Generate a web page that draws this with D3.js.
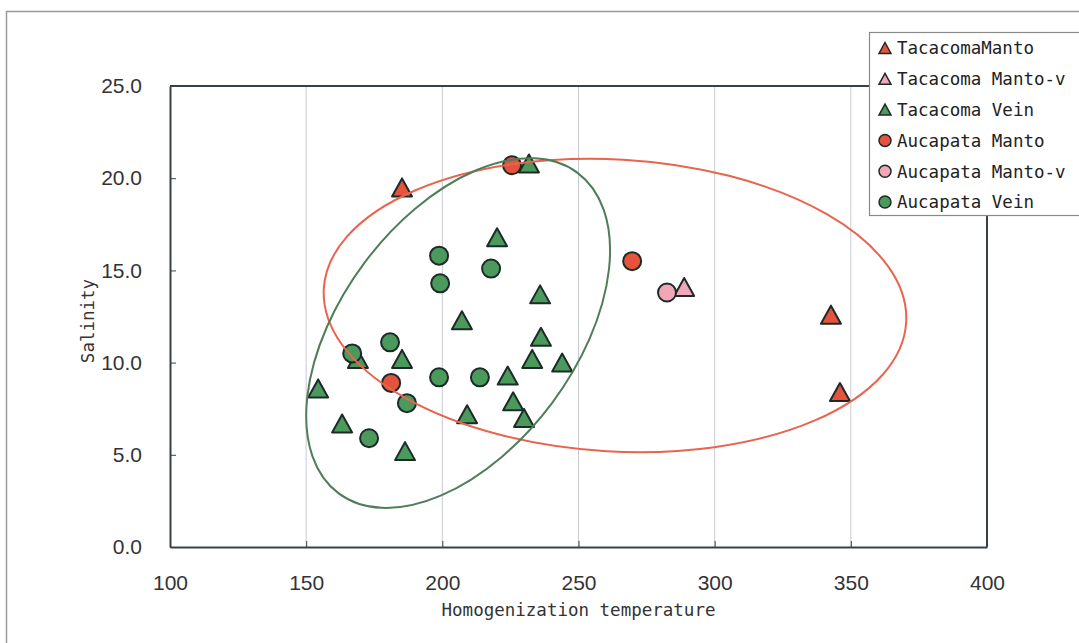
<!DOCTYPE html>
<html>
<head>
<meta charset="utf-8">
<script src="https://cdn.jsdelivr.net/npm/d3@7"></script>
<style>
  body { margin: 0; background: #fff; }
  #graf { width: 1079px; height: 643px; }
  .eje text { font-family: 'Liberation Sans', Arial, sans-serif; font-size: 21px; fill: #333; }
  .eje path, .eje line { stroke: #3a4048; }
  .titulo-eje { font-family: 'DejaVu Sans Mono', monospace; font-size: 17.5px; fill: #333; }
  .leyenda text { font-family: 'DejaVu Sans Mono', monospace; font-size: 17.5px; fill: #222; }
</style>
</head>
<body>
<div id="graf"></div>
<script>
// datos (temperatura de homogeneizacion, salinidad)
const tacacomaMantoT  = [185.2, 342.7, 346.0]
const tacacomaMantoS  = [19.5, 12.6, 8.4]
const tacacomaMantoVT = [288.8]
const tacacomaMantoVS = [14.1]
const tacacomaVeinT = [231.8, 220.1, 235.9, 207.2, 236.2, 233.0, 244.0, 224.0, 226.0, 230.0, 209.1, 186.3, 163.2, 154.4, 185.2, 169.0]
const tacacomaVeinS = [20.8, 16.8, 13.7, 12.3, 11.4, 10.2, 10.0, 9.3, 7.9, 7.0, 7.2, 5.2, 6.7, 8.6, 10.2, 10.2]
const aucapataMantoT  = [225.6, 269.7, 181.2]
const aucapataMantoS  = [20.7, 15.5, 8.9]
const aucapataMantoVT = [282.5]
const aucapataMantoVS = [13.8]
const aucapataVeinT = [198.8, 199.2, 217.9, 180.8, 166.9, 198.8, 213.8, 187.0, 173.1]
const aucapataVeinS = [15.8, 14.3, 15.1, 11.1, 10.5, 9.2, 9.2, 7.8, 5.9]

const series = ['TacacomaManto', 'Tacacoma Manto-v', 'Tacacoma Vein', 'Aucapata Manto', 'Aucapata Manto-v', 'Aucapata Vein']
const formas = ['tri', 'tri', 'tri', 'circ', 'circ', 'circ']
const colores = ['#e5533d', '#f2a7b8', '#4b9a5c', '#e5533d', '#f2a7b8', '#4b9a5c']
const valoresT = [tacacomaMantoT, tacacomaMantoVT, tacacomaVeinT, aucapataMantoT, aucapataMantoVT, aucapataVeinT]
const valoresS = [tacacomaMantoS, tacacomaMantoVS, tacacomaVeinS, aucapataMantoS, aucapataMantoVS, aucapataVeinS]

const xTicks = [100, 150, 200, 250, 300, 350, 400]
const yTicks = [0, 5, 10, 15, 20, 25]

// elipses: centro (T, S), radios en unidades de cada eje, angulo en grados
const elipseManto = { cx: 263.4, cy: 13.1, rx: 107.1, ry: 7.92, ang: 3.3, color: '#e8644f' }
const elipseVein  = { cx: 205.8, cy: 11.6, rx: 73.4, ry: 6.35, ang: -53.3, color: '#4f7d58' }
const elipses = [elipseManto, elipseVein]

// I. Configuracion
graf = d3.select('#graf')
ancho_total = 1079
alto_total = 643
margins = { top: 86, left: 170, right: 92, bottom: 96 }
ancho = ancho_total - margins.left - margins.right
alto = alto_total - margins.top - margins.bottom

svg = graf.append('svg')
  .attr('width', ancho_total)
  .attr('height', alto_total)

// marco exterior
svg.append('rect')
  .attr('x', 6.5).attr('y', 11.5)
  .attr('width', 1200).attr('height', 1000)
  .attr('fill', '#fff')
  .attr('stroke', '#9a9a9a')
  .attr('stroke-width', 1.5)

g = svg.append('g')
  .attr('transform', `translate(${margins.left}, ${margins.top})`)

x = d3.scaleLinear().domain([100, 400]).range([0, ancho])
y = d3.scaleLinear().domain([0, 25]).range([alto, 0])

// lineas de rejilla verticales
g.selectAll('.rejilla')
  .data(xTicks.slice(1, -1))
  .enter().append('line')
  .attr('class', 'rejilla')
  .attr('x1', d => x(d)).attr('x2', d => x(d))
  .attr('y1', 0).attr('y2', alto)
  .attr('stroke', '#c9c9d6')
  .attr('stroke-width', 1)

// ejes
xAxisGroup = g.append('g')
  .attr('class', 'eje')
  .attr('transform', `translate(0, ${alto})`)
  .call(d3.axisBottom(x).tickValues(xTicks).tickSize(-6).tickPadding(28).tickSizeOuter(0))
yAxisGroup = g.append('g')
  .attr('class', 'eje')
  .call(d3.axisLeft(y).tickValues(yTicks).tickSize(-6).tickPadding(28).tickSizeOuter(0).tickFormat(d3.format('.1f')))
g.selectAll('.eje path').attr('stroke-width', 2)

// borde superior y derecho del area de la grafica
g.append('path')
  .attr('d', `M0,0H${x(400)}V${alto}`)
  .attr('fill', 'none')
  .attr('stroke', '#3a4048')
  .attr('stroke-width', 2)

// titulos de ejes
svg.append('text')
  .attr('class', 'titulo-eje')
  .attr('x', margins.left + x(250))
  .attr('y', 616)
  .attr('text-anchor', 'middle')
  .text('Homogenization temperature')
svg.append('text')
  .attr('class', 'titulo-eje')
  .attr('transform', 'translate(94, 321) rotate(-90)')
  .attr('text-anchor', 'middle')
  .text('Salinity')

// II. marcadores
const tri = d3.symbol().type(d3.symbolTriangle)
function trianguloPath(w, h) {
  return `M0,${-h / 2}L${w / 2},${h / 2}L${-w / 2},${h / 2}Z`
}

series.forEach((s, i) => {
  const puntos = valoresT[i].map((t, j) => ({ t: t, s: valoresS[i][j] }))
  const capa = g.append('g')
  if (formas[i] == 'tri') {
    capa.selectAll('path')
      .data(puntos)
      .enter().append('path')
      .attr('d', trianguloPath(20, 18))
      .attr('transform', d => `translate(${x(d.t)}, ${y(d.s)})`)
      .attr('fill', colores[i])
      .attr('stroke', '#1d2a2a')
      .attr('stroke-width', 2)
      .attr('stroke-linejoin', 'round')
  } else {
    capa.selectAll('circle')
      .data(puntos)
      .enter().append('circle')
      .attr('cx', d => x(d.t))
      .attr('cy', d => y(d.s))
      .attr('r', 9)
      .attr('fill', colores[i])
      .attr('stroke', '#1d2a2a')
      .attr('stroke-width', 2)
  }
})

// elipses encima de los puntos
g.selectAll('.elipse')
  .data(elipses)
  .enter().append('ellipse')
  .attr('class', 'elipse')
  .attr('cx', 0).attr('cy', 0)
  .attr('rx', d => x(d.cx + d.rx) - x(d.cx))
  .attr('ry', d => y(d.cy - d.ry) - y(d.cy))
  .attr('transform', d => `translate(${x(d.cx)}, ${y(d.cy)}) rotate(${d.ang})`)
  .attr('fill', 'none')
  .attr('stroke', d => d.color)
  .attr('stroke-width', 2)

// III. leyenda
leyenda = svg.append('g')
  .attr('class', 'leyenda')
  .attr('transform', 'translate(869, 32)')
leyenda.append('rect')
  .attr('x', 0.5).attr('y', 0.5)
  .attr('width', 260).attr('height', 183)
  .attr('fill', '#fff')
  .attr('stroke', '#8a8a8a')
  .attr('stroke-width', 1.2)

filas = leyenda.selectAll('.fila')
  .data(series)
  .enter().append('g')
  .attr('class', 'fila')
  .attr('transform', (d, i) => `translate(0, ${16 + i * 30.8})`)

filas.each(function (d, i) {
  const f = d3.select(this)
  if (formas[i] == 'tri') {
    f.append('path')
      .attr('d', trianguloPath(12, 11))
      .attr('transform', 'translate(16, 0)')
      .attr('fill', colores[i])
      .attr('stroke', '#1d2a2a')
      .attr('stroke-width', 1.5)
  } else {
    f.append('circle')
      .attr('cx', 16).attr('cy', 0).attr('r', 6)
      .attr('fill', colores[i])
      .attr('stroke', '#1d2a2a')
      .attr('stroke-width', 1.5)
  }
  f.append('text')
    .attr('x', 28)
    .attr('y', 0)
    .attr('dy', '0.36em')
    .text(d)
})
</script>
</body>
</html>
